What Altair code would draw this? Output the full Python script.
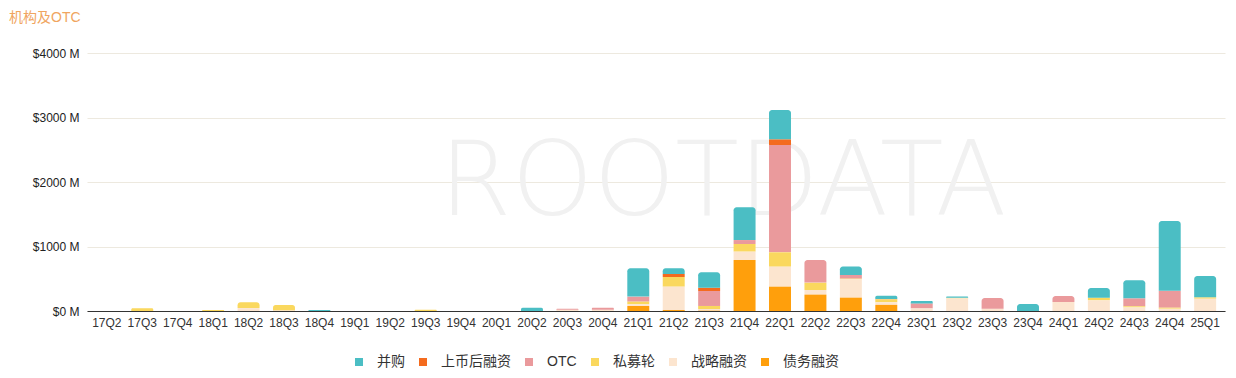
import altair as alt
import pandas as pd

quarters = ["17Q2","17Q3","17Q4","18Q1","18Q2","18Q3","18Q4","19Q1","19Q2","19Q3","19Q4","20Q1",
            "20Q2","20Q3","20Q4","21Q1","21Q2","21Q3","21Q4","22Q1","22Q2","22Q3","22Q4","23Q1",
            "23Q2","23Q3","23Q4","24Q1","24Q2","24Q3","24Q4","25Q1"]

# values in $M
debt      = [0,0,0,0,0,0,0,0,0,0,0,0, 0,0,0, 78,15,5,791,377,254,207,95,0, 0,0,0,0,0,0,0,0]
strategic = [0,0,0,0,45,13,0,0,0,0,0,0, 0,20,20, 26,362,26,129,310,72,284,40,40, 195,36,0,140,165,55,35,190]
private   = [0,41,0,15,90,80,0,0,0,20,0,0, 0,0,0, 41,150,47,119,223,114,10,45,0, 10,0,0,0,42,18,16,22]
otc       = [0,0,0,0,0,0,0,0,0,0,0,0, 0,15,30, 78,0,232,61,1664,351,57,0,78, 0,166,0,93,0,124,263,0]
post_list = [0,0,0,0,0,0,0,0,0,0,0,0, 0,0,0, 0,47,51,0,88,0,0,5,0, 0,0,0,0,0,0,0,0]
mna       = [0,0,0,0,0,0,15,0,0,0,0,0, 50,0,0, 438,87,239,507,454,0,130,50,36, 20,0,109,0,150,279,1080,331]

series_names = ["并购", "上币后融资", "OTC", "私募轮", "战略融资", "债务融资"]
series_colors = ["#4BBEC4", "#F46B1E", "#EA9A9C", "#FAD85E", "#FCE5CF", "#FF9F0C"]
series_values = [mna, post_list, otc, private, strategic, debt]

rows = []
for si, (name, vals) in enumerate(zip(series_names, series_values)):
    for q, v in zip(quarters, vals):
        rows.append({"quarter": q, "series": name, "value": v, "ord": len(series_names) - si})
df = pd.DataFrame(rows)

W, H = 1138, 258
FONT = "Liberation Sans, Arial, Noto Sans CJK SC"

x_enc = alt.X("quarter:N", sort=quarters, title=None,
              scale=alt.Scale(paddingInner=0.38, paddingOuter=0.25),
              axis=alt.Axis(labelAngle=0, ticks=False, domainColor="#333333", labelColor="#333333",
                            labelFontSize=12, labelPadding=6, labelFont=FONT, grid=False))
y_enc = alt.Y("y0:Q", title=None,
              scale=alt.Scale(domain=[0, 4000], nice=False),
              axis=alt.Axis(values=[0, 1000, 2000, 3000, 4000], labelExpr="'$' + datum.value + ' M'",
                            domain=False, ticks=False, gridColor="#EDE9DF", labelColor="#222222",
                            labelFontSize=12, labelPadding=8, labelFont=FONT))
c_enc = alt.Color("series:N", title=None,
                  scale=alt.Scale(domain=series_names, range=series_colors),
                  legend=alt.Legend(orient="none", direction="horizontal", symbolType="square",
                                    symbolSize=64, symbolStrokeWidth=0, labelFontSize=14,
                                    labelColor="#333333", labelFont=FONT, columnPadding=11,
                                    labelOffset=11, legendX=265, legendY=302))

base = alt.Chart(df).transform_stack(
    stack="value", groupby=["quarter"], as_=["y0", "y1"],
    sort=[alt.SortField("ord", order="ascending")],
).transform_joinaggregate(
    total="max(y1)", groupby=["quarter"]
).transform_calculate(
    is_top="datum.value > 0 && datum.y1 >= datum.total"
)

enc = dict(x=x_enc, y=y_enc, y2="y1:Q", color=c_enc)
body = base.transform_filter("!datum.is_top").mark_bar().encode(**enc)
tops = base.transform_filter("datum.is_top").mark_bar(
    cornerRadiusTopLeft=3, cornerRadiusTopRight=3).encode(**enc)

watermark = alt.Chart(pd.DataFrame({"t": ["ROOTDATA"]})).mark_text(
    fontSize=104, color="#F1F1F1", align="center", baseline="alphabetic",
    font="DejaVu Sans", fontWeight=300
).encode(text="t:N", x=alt.value(636), y=alt.value(162))

chart = alt.layer(watermark, body, tops).properties(
    width=W, height=H,
    background="white",
    title=alt.TitleParams("机构及OTC", anchor="start", frame="group", fontSize=14,
                          fontWeight="normal", color="#F0A560", font=FONT, offset=22, dx=-78),
    autosize=alt.AutoSizeParams(type="none"),
    padding={"left": 79, "top": 45, "right": 3, "bottom": 59},
).configure_view(stroke=None)

chart.save("out.html", embed_options={"renderer": "svg", "actions": False})
